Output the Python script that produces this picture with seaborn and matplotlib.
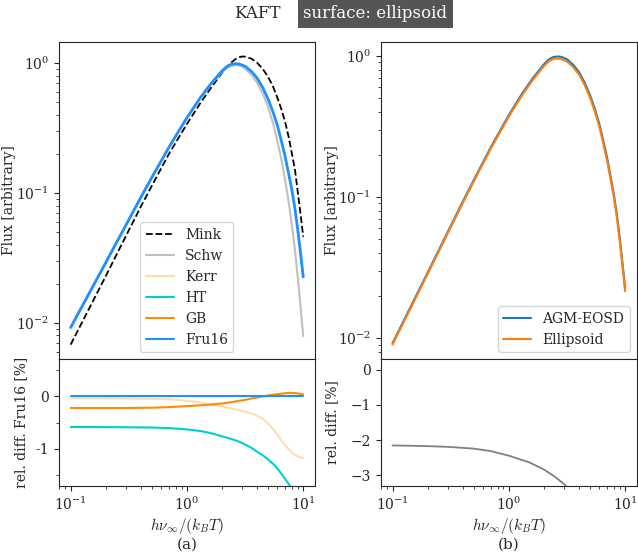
import numpy as np
import pandas as pd
import matplotlib
matplotlib.use("Agg")
import matplotlib.pyplot as plt
import seaborn as sns
from matplotlib.ticker import MultipleLocator

# ---------------- data ----------------
energy = [0.1, 0.15, 0.2, 0.3, 0.4, 0.5, 0.7, 1.0, 1.3, 1.6, 2.0, 2.2, 2.4, 2.6, 2.8, 3.0, 3.2,
          3.6, 4.0, 4.5, 5.0, 5.5, 6.0, 6.5, 7.0, 7.5, 8.0, 8.5, 9.0, 9.5, 10.0]

flux_mink = [0.0068, 0.0138, 0.0228, 0.047, 0.078, 0.114, 0.20, 0.34, 0.49, 0.64,
             0.84, 0.93, 1.01, 1.07, 1.11, 1.125, 1.12, 1.08, 1.01, 0.90, 0.78, 0.66,
             0.54, 0.44, 0.35, 0.27, 0.20, 0.15, 0.10, 0.068, 0.046]
flux_schw = [0.0093, 0.0181, 0.0292, 0.057, 0.092, 0.132, 0.225, 0.38, 0.535, 0.68,
             0.85, 0.91, 0.95, 0.965, 0.96, 0.94, 0.90, 0.81, 0.71, 0.58, 0.455, 0.345,
             0.25, 0.18, 0.125, 0.085, 0.056, 0.036, 0.022, 0.013, 0.0079]
flux_fru16 = [0.0092, 0.0180, 0.0290, 0.057, 0.092, 0.132, 0.225, 0.38, 0.54, 0.69,
              0.87, 0.94, 0.98, 0.99, 0.985, 0.965, 0.94, 0.86, 0.77, 0.645, 0.525, 0.42,
              0.33, 0.25, 0.19, 0.14, 0.105, 0.075, 0.051, 0.034, 0.0226]

# relative difference to Fru16 in percent
diff_kerr = [-0.04, -0.04, -0.04, -0.045, -0.05, -0.05, -0.06, -0.09, -0.12, -0.16,
             -0.20, -0.215, -0.23, -0.25, -0.27, -0.285, -0.30, -0.33, -0.37, -0.43,
             -0.52, -0.62, -0.73, -0.84, -0.93, -1.01, -1.07, -1.11, -1.14, -1.16, -1.17]
diff_ht = [-0.585, -0.585, -0.587, -0.59, -0.592, -0.595, -0.605, -0.63, -0.66, -0.70,
           -0.76, -0.785, -0.81, -0.835, -0.86, -0.89, -0.92, -0.98, -1.05, -1.12,
           -1.20, -1.28, -1.37, -1.47, -1.57, -1.66, -1.76, -1.86, -1.96, -2.06, -2.16]
diff_gb = [-0.225, -0.225, -0.225, -0.225, -0.222, -0.22, -0.21, -0.19, -0.175, -0.16,
           -0.14, -0.128, -0.115, -0.102, -0.09, -0.08, -0.07, -0.045, -0.03, -0.005,
           0.01, 0.025, 0.035, 0.045, 0.055, 0.06, 0.06, 0.055, 0.05, 0.04, 0.03]
diff_fru16 = [0.0] * len(energy)

flux_agm = [0.0092, 0.0180, 0.0290, 0.057, 0.092, 0.132, 0.225, 0.38, 0.54, 0.69,
            0.87, 0.94, 0.98, 0.99, 0.985, 0.965, 0.94, 0.86, 0.77, 0.645, 0.525, 0.42,
            0.33, 0.25, 0.19, 0.14, 0.105, 0.075, 0.051, 0.034, 0.0226]
flux_ellipsoid = [0.0090, 0.0176, 0.0284, 0.0558, 0.090, 0.129, 0.220, 0.371, 0.526, 0.671,
                  0.845, 0.912, 0.95, 0.958, 0.952, 0.931, 0.906, 0.827, 0.74, 0.62, 0.504,
                  0.402, 0.315, 0.238, 0.181, 0.133, 0.0997, 0.0712, 0.0484, 0.0323, 0.0215]

energy_b = [0.1, 0.15, 0.2, 0.3, 0.5, 0.7, 1.0, 1.5, 2.0, 2.5, 3.0, 3.5]
diff_ellipsoid = [-2.15, -2.16, -2.17, -2.19, -2.24, -2.31, -2.44, -2.63, -2.83, -3.04, -3.25, -3.47]

# ---------------- figure ----------------
sns.set_style("ticks")
plt.rcParams['font.family'] = ['DejaVu Serif']
plt.rcParams['mathtext.fontset'] = 'cm'
plt.rcParams['font.size'] = 10

fig = plt.figure(figsize=(6.38, 5.58), dpi=100)
ax_a = fig.add_axes([0.0925, 0.3566, 0.401, 0.568])
ax_ad = fig.add_axes([0.0925, 0.129, 0.401, 0.2276], sharex=ax_a)
ax_b = fig.add_axes([0.597, 0.3566, 0.401, 0.568])
ax_bd = fig.add_axes([0.597, 0.129, 0.401, 0.2276], sharex=ax_b)

df = pd.DataFrame({"E": energy, "Mink": flux_mink, "Schw": flux_schw, "Fru16": flux_fru16,
                   "dKerr": diff_kerr, "dHT": diff_ht, "dGB": diff_gb, "dFru16": diff_fru16,
                   "AGM": flux_agm, "Ell": flux_ellipsoid})

# (a) top
sns.lineplot(data=df, x="E", y="Mink", ax=ax_a, color="k", ls="--", lw=1.3)
sns.lineplot(data=df, x="E", y="Schw", ax=ax_a, color="silver", lw=1.5)
sns.lineplot(data=df, x="E", y="Fru16", ax=ax_a, color="dodgerblue", lw=2.0)

# (a) bottom
sns.lineplot(data=df, x="E", y="dKerr", ax=ax_ad, color="navajowhite", lw=1.5)
sns.lineplot(data=df, x="E", y="dHT", ax=ax_ad, color="darkturquoise", lw=1.5)
sns.lineplot(data=df, x="E", y="dGB", ax=ax_ad, color="darkorange", lw=1.5)
sns.lineplot(data=df, x="E", y="dFru16", ax=ax_ad, color="dodgerblue", lw=1.5)

handles = ax_a.get_lines()[:2] + ax_ad.get_lines()[:3] + [ax_ad.get_lines()[3]]
ax_a.legend(handles, ["Mink", "Schw", "Kerr", "HT", "GB", "Fru16"], loc="lower center",
            fontsize=10)

ax_a.set_xscale("log")
ax_a.set_yscale("log")
ax_a.set_ylabel("Flux [arbitrary]", fontsize=10)
ax_a.yaxis.set_label_coords(-0.17, 0.5)
ax_a.set_xlabel("")
ax_a.tick_params(axis="x", which="both", bottom=False, labelbottom=False)

ax_ad.set_ylim(-1.7, 0.7)
ax_ad.set_yticks([-1, 0])
ax_ad.set_yticklabels(["-1", "0"])
ax_ad.yaxis.set_minor_locator(MultipleLocator(0.5))
ax_ad.set_ylabel("rel. diff. Fru16 [%]", fontsize=10)
ax_ad.yaxis.set_label_coords(-0.12, 0.5)
ax_ad.set_xlabel(r"$h\nu_\infty/(k_BT)$", fontsize=11, labelpad=2)

# (b)
sns.lineplot(data=df, x="E", y="AGM", ax=ax_b, color="C0", lw=1.5, label="AGM-EOSD")
sns.lineplot(data=df, x="E", y="Ell", ax=ax_b, color="C1", lw=1.5, label="Ellipsoid")
ax_b.legend(loc="lower right", fontsize=10)
ax_b.set_xscale("log")
ax_b.set_yscale("log")
ax_b.set_ylabel("Flux [arbitrary]", fontsize=10)
ax_b.yaxis.set_label_coords(-0.165, 0.5)
ax_b.set_xlabel("")
ax_b.tick_params(axis="x", which="both", bottom=False, labelbottom=False)

sns.lineplot(x=energy_b, y=diff_ellipsoid, ax=ax_bd, color="gray", lw=1.3)
ax_bd.set_ylim(-3.3, 0.3)
ax_bd.set_yticks([-3, -2, -1, 0])
ax_bd.set_ylabel("rel. diff. [%]", fontsize=10)
ax_bd.yaxis.set_label_coords(-0.165, 0.5)
ax_bd.set_xlabel(r"$h\nu_\infty/(k_BT)$", fontsize=11, labelpad=2)
ax_bd.set_xlim(ax_b.get_xlim())

for ax in (ax_a, ax_ad, ax_b, ax_bd):
    for s in ax.spines.values():
        s.set_visible(True)

fig.text(0.2930, 1 - 545 / 558, "(a)", ha="center", va="center", fontsize=11)
fig.text(0.7975, 1 - 545 / 558, "(b)", ha="center", va="center", fontsize=11)
fig.text(0.44, 0.975, "KAFT", ha="right", va="center", fontsize=12)
fig.text(0.475, 0.975, "surface: ellipsoid", ha="left", va="center", fontsize=12,
         color="white", bbox=dict(facecolor="#555555", edgecolor="none", pad=4))

fig.savefig("out.png", dpi=100)
